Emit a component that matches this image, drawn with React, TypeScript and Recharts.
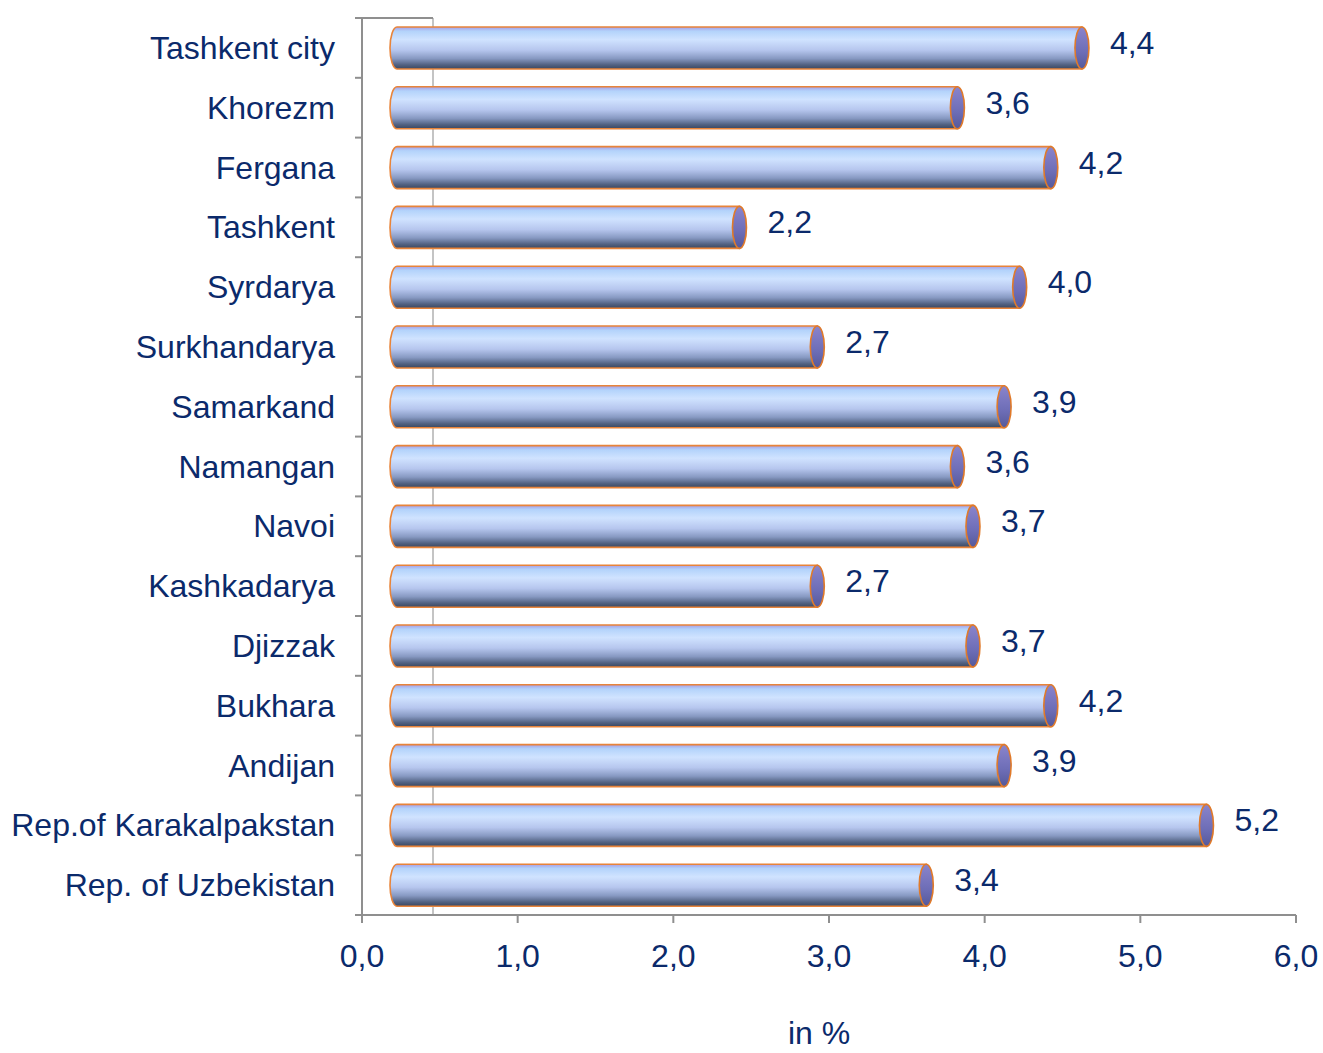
import React from "react"
import {
  Bar,
  BarChart,
  CartesianGrid,
  LabelList,
  ReferenceLine,
  XAxis,
  YAxis,
} from "recharts"

const regions = [
  "Tashkent city",
  "Khorezm",
  "Fergana",
  "Tashkent",
  "Syrdarya",
  "Surkhandarya",
  "Samarkand",
  "Namangan",
  "Navoi",
  "Kashkadarya",
  "Djizzak",
  "Bukhara",
  "Andijan",
  "Rep.of Karakalpakstan",
  "Rep. of Uzbekistan",
]
const shares = [4.4, 3.6, 4.2, 2.2, 4.0, 2.7, 3.9, 3.6, 3.7, 2.7, 3.7, 4.2, 3.9, 5.2, 3.4]
const xTicks = [0, 1, 2, 3, 4, 5, 6]

const data = regions.map((region, i) => ({ region, value: shares[i] }))

const W = 1323
const H = 1053
const MARGIN = { top: 18, right: 27, bottom: 0, left: 0 }
const Y_AXIS_W = 362
const X_AXIS_H = 138
const PLOT_H = H - MARGIN.top - MARGIN.bottom - X_AXIS_H
const BAND = PLOT_H / regions.length

// 3D look: bars sit in the middle of a shallow depth
const DEPTH = 71
const SHIFT = 35
const CAP = 7

const TEXT = "#0b2a6b"
const AXIS = "#8f8f8f"
const FONT = "'Liberation Sans', Arial, sans-serif"
const FS = 32

const fmt = (v: number) => v.toFixed(1).replace(".", ",")

function Cylinder(props: any) {
  const { x, y, width, height } = props
  const x0 = x + SHIFT
  const x1 = x + width + SHIFT
  const r = height / 2
  const cy = y + r
  const body = `M ${x0} ${y} L ${x1} ${y} L ${x1} ${y + height} L ${x0} ${y + height} A ${CAP} ${r} 0 0 1 ${x0} ${y} Z`
  return (
    <g>
      <path d={body} fill="url(#cyl)" stroke="#e8843a" strokeWidth={1.6} />
      <ellipse cx={x1} cy={cy} rx={CAP} ry={r} fill="url(#cap)" stroke="#e07a2a" strokeWidth={1.6} />
    </g>
  )
}

function ValueLabel(props: any) {
  const { x, y, width, height, value } = props
  return (
    <text
      x={x + width + SHIFT + CAP + 21}
      y={y + height / 2 - 5}
      fill={TEXT}
      fontSize={FS}
      fontFamily={FONT}
      dominantBaseline="central"
    >
      {fmt(value)}
    </text>
  )
}

function RegionTick(props: any) {
  const { x, y, payload, index } = props
  const half = BAND / 2
  return (
    <g>
      <text
        x={x - 27}
        y={y}
        textAnchor="end"
        dominantBaseline="central"
        fill={TEXT}
        fontSize={FS}
        fontFamily={FONT}
      >
        {payload.value}
      </text>
      <line x1={x - 7} x2={x} y1={y - half} y2={y - half} stroke={AXIS} strokeWidth={2} />
      {index === regions.length - 1 && (
        <line x1={x - 7} x2={x} y1={y + half} y2={y + half} stroke={AXIS} strokeWidth={2} />
      )}
    </g>
  )
}

function WallTop(props: any) {
  const { x1, y1, y2 } = props
  const top = Math.min(y1, y2)
  return <line x1={x1} x2={x1 + DEPTH} y1={top} y2={top} stroke={AXIS} strokeWidth={2} />
}

export default function App() {
  return (
    <div style={{ position: "absolute", left: 0, top: 0, width: W, height: H, background: "#fff" }}>
      <BarChart width={W} height={H} data={data} layout="vertical" margin={MARGIN}>
        <defs>
          <linearGradient id="cyl" x1="0" y1="0" x2="0" y2="1">
            <stop offset="0%" stopColor="#a79ee6" />
            <stop offset="10%" stopColor="#b3d3fb" />
            <stop offset="30%" stopColor="#d0e3ff" />
            <stop offset="55%" stopColor="#b6c6ee" />
            <stop offset="75%" stopColor="#8799c2" />
            <stop offset="90%" stopColor="#526282" />
            <stop offset="100%" stopColor="#3a475f" />
          </linearGradient>
          <linearGradient id="cap" x1="0" y1="0" x2="0" y2="1">
            <stop offset="0%" stopColor="#8a84cc" />
            <stop offset="60%" stopColor="#6d6db6" />
            <stop offset="100%" stopColor="#55599a" />
          </linearGradient>
        </defs>
        <CartesianGrid
          horizontal={false}
          stroke="#c4c4c4"
          strokeWidth={2}
          verticalCoordinatesGenerator={({ offset }: any) => [offset.left + DEPTH]}
        />
        <XAxis
          type="number"
          domain={[0, 6]}
          ticks={xTicks}
          tickFormatter={fmt}
          height={X_AXIS_H}
          stroke={AXIS}
          axisLine={{ stroke: AXIS, strokeWidth: 2 }}
          tickLine={{ stroke: AXIS, strokeWidth: 2 }}
          tickSize={8}
          tickMargin={21}
          tick={{ fill: TEXT, fontSize: FS, fontFamily: FONT }}
          label={{
            value: "in %",
            position: "insideBottom",
            offset: 9,
            dx: -10,
            fill: TEXT,
            fontSize: FS,
            fontFamily: FONT,
          }}
        />
        <YAxis
          type="category"
          dataKey="region"
          width={Y_AXIS_W}
          axisLine={{ stroke: AXIS, strokeWidth: 2 }}
          tickLine={false}
          tickSize={0}
          tickMargin={0}
          interval={0}
          tick={<RegionTick />}
        />
        <ReferenceLine x={0} shape={<WallTop />} ifOverflow="visible" />
        <Bar dataKey="value" barSize={42} shape={<Cylinder />} isAnimationActive={false}>
          <LabelList dataKey="value" content={<ValueLabel />} />
        </Bar>
      </BarChart>
    </div>
  )
}
